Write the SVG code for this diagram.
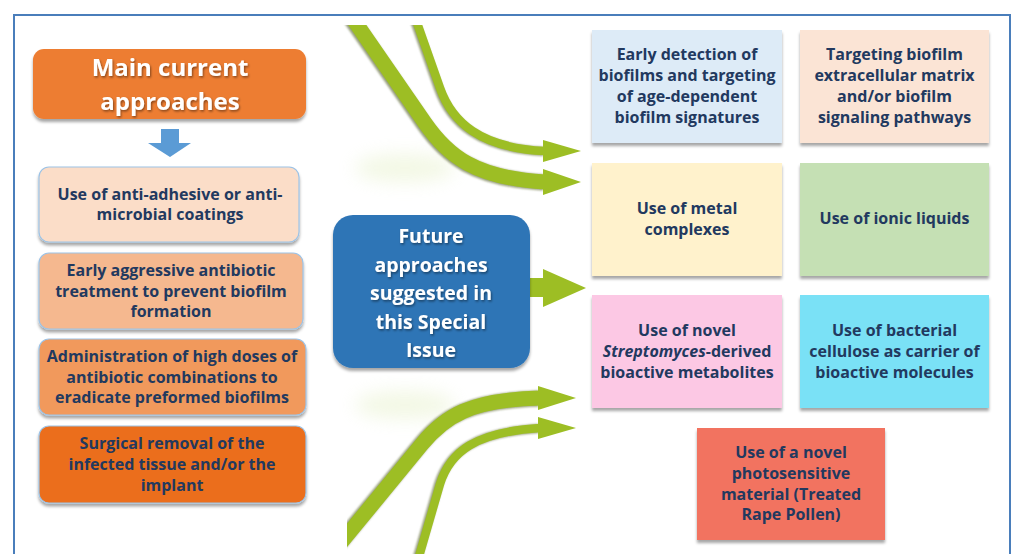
<svg xmlns="http://www.w3.org/2000/svg" width="1012" height="554" viewBox="0 0 1012 554">
<defs>
<style>
.t{font-family:"Open Sans","Liberation Sans",sans-serif;font-weight:bold;text-anchor:middle}
.dk{fill:#22395F;font-size:16px}
.wh{fill:#FFFFFF}
.band{fill:none;stroke:#9DBE24;stroke-linecap:butt}
.bandsh{fill:none;stroke:#3E4A08;stroke-linecap:butt;opacity:0.55}
.head{fill:#9DBE24}
.lb{stroke:#9DC3E6;stroke-width:1.2}
</style>
<filter id="sh" x="-10%" y="-10%" width="120%" height="130%">
<feDropShadow dx="0" dy="3" stdDeviation="1.8" flood-color="#000" flood-opacity="0.35"/>
</filter>
<filter id="tsh" x="-10%" y="-20%" width="120%" height="150%">
<feDropShadow dx="1" dy="1.5" stdDeviation="1" flood-color="#000" flood-opacity="0.45"/>
</filter>
<filter id="blur1"><feGaussianBlur stdDeviation="1.2"/></filter>
<filter id="blur6" x="-50%" y="-100%" width="200%" height="300%"><feGaussianBlur stdDeviation="9"/></filter>
<clipPath id="ctop"><rect x="340" y="25" width="260" height="200"/></clipPath>
<clipPath id="cbot"><rect x="347" y="370" width="260" height="184"/></clipPath>
</defs>
<rect x="0" y="0" width="1012" height="554" fill="#FFFFFF"/>
<path d="M14,554 L14,15 L1010,15 L1010,554" fill="none" stroke="#4A7EBB" stroke-width="2"/>

<g id="connectors">
<polygon id="down-arrow" points="161,129 179,129 179,143 191,143 170,157 148,143 161,143" fill="#5B9BD5"/>
<g id="top-arrows">
<ellipse cx="405" cy="168" rx="50" ry="14" fill="#DDEBB5" opacity="0.35" filter="url(#blur6)"/>
<g clip-path="url(#ctop)">
<path class="bandsh" d="M340,0 L425,123 C448,156 475,178 545,182" stroke-width="16" transform="translate(-1.5,0.5)" filter="url(#blur1)"/>
<path class="band" d="M340,0 L425,123 C448,156 475,178 545,182" stroke-width="15"/>
<path class="bandsh" d="M409,0 L440,88 C452,122 480,148 545,151" stroke-width="9" transform="translate(-1.5,0.5)" filter="url(#blur1)"/>
<path class="band" d="M409,0 L440,88 C452,122 480,148 545,151" stroke-width="8.5"/>
</g>
<polygon class="head" points="543,140 581,151 543,162"/>
<polygon class="head" points="543,169 581,182 543,195"/>
</g>
<g id="mid-arrow">
<rect x="529" y="278" width="15" height="19" fill="#9DBE24"/>
<polygon class="head" points="543,269 586,288 543,307"/>
</g>
<g id="bottom-arrows">
<ellipse cx="405" cy="405" rx="50" ry="14" fill="#DDEBB5" opacity="0.35" filter="url(#blur6)"/>
<g clip-path="url(#cbot)">
<path class="bandsh" d="M330,556 L422,444 C445,416 470,400 540,398" stroke-width="16" transform="translate(-1.5,0.5)" filter="url(#blur1)"/>
<path class="band" d="M330,556 L422,444 C445,416 470,400 540,398" stroke-width="15"/>
<path class="bandsh" d="M418,560 L440,484 C450,452 475,432 540,428" stroke-width="9" transform="translate(-1.5,0.5)" filter="url(#blur1)"/>
<path class="band" d="M418,560 L440,484 C450,452 475,432 540,428" stroke-width="8.5"/>
</g>
<polygon class="head" points="538,386 576,398 538,410"/>
<polygon class="head" points="538,417 576,428 538,439"/>
</g>
</g>

<g id="main-current">
<rect x="33" y="49" width="273" height="70" rx="11" fill="#ED7D31" filter="url(#sh)"/>
<g filter="url(#tsh)">
<text class="t wh" x="170" y="76" font-size="24">Main current</text>
<text class="t wh" x="170" y="110" font-size="24">approaches</text>
</g>
</g>

<g id="cur1">
<rect x="39" y="167" width="260" height="75" rx="10" fill="#FBDDC8" class="lb" filter="url(#sh)"/>
<text class="t dk" x="170" y="200">Use of anti-adhesive or anti-</text>
<text class="t dk" x="170" y="220">microbial coatings</text>
</g>
<g id="cur2">
<rect x="39" y="253" width="264" height="76" rx="10" fill="#F5B88F" class="lb" filter="url(#sh)"/>
<text class="t dk" x="171" y="276">Early aggressive antibiotic</text>
<text class="t dk" x="171" y="296.5">treatment to prevent biofilm</text>
<text class="t dk" x="171" y="317">formation</text>
</g>
<g id="cur3">
<rect x="39" y="339" width="267" height="76" rx="10" fill="#F1995C" class="lb" filter="url(#sh)"/>
<text class="t dk" x="172" y="362">Administration of high doses of</text>
<text class="t dk" x="172" y="382.5">antibiotic combinations to</text>
<text class="t dk" x="172" y="403">eradicate preformed biofilms</text>
</g>
<g id="cur4">
<rect x="39" y="426" width="267" height="77" rx="10" fill="#EB6E1A" class="lb" filter="url(#sh)"/>
<text class="t dk" x="172" y="449">Surgical removal of the</text>
<text class="t dk" x="172" y="470">infected tissue and/or the</text>
<text class="t dk" x="172" y="491">implant</text>
</g>

<g id="future">
<rect x="333" y="215" width="197" height="153" rx="20" fill="#2E75B6" filter="url(#sh)"/>
<g filter="url(#tsh)">
<text class="t wh" x="431" y="243" font-size="19.5">Future</text>
<text class="t wh" x="431" y="271.5" font-size="19.5">approaches</text>
<text class="t wh" x="431" y="300" font-size="19.5">suggested in</text>
<text class="t wh" x="431" y="328.5" font-size="19.5">this Special</text>
<text class="t wh" x="431" y="357" font-size="19.5">Issue</text>
</g>
</g>

<g id="fut1">
<rect x="592" y="30" width="190" height="113" fill="#DDEBF7" filter="url(#sh)"/>
<text class="t dk" x="687" y="60">Early detection of</text>
<text class="t dk" x="687" y="81">biofilms and targeting</text>
<text class="t dk" x="687" y="102">of age-dependent</text>
<text class="t dk" x="687" y="123">biofilm signatures</text>
</g>
<g id="fut2">
<rect x="800" y="30" width="189" height="113" fill="#FBE4D5" filter="url(#sh)"/>
<text class="t dk" x="894.5" y="60">Targeting biofilm</text>
<text class="t dk" x="894.5" y="81">extracellular matrix</text>
<text class="t dk" x="894.5" y="102">and/or biofilm</text>
<text class="t dk" x="894.5" y="123">signaling pathways</text>
</g>
<g id="fut3">
<rect x="592" y="163" width="190" height="113" fill="#FFF2CC" filter="url(#sh)"/>
<text class="t dk" x="687" y="213.5">Use of metal</text>
<text class="t dk" x="687" y="234.5">complexes</text>
</g>
<g id="fut4">
<rect x="800" y="163" width="189" height="113" fill="#C5E0B4" filter="url(#sh)"/>
<text class="t dk" x="894.5" y="224">Use of ionic liquids</text>
</g>
<g id="fut5">
<rect x="592" y="295" width="190" height="113" fill="#FCC8E4" filter="url(#sh)"/>
<text class="t dk" x="687" y="335.5">Use of novel</text>
<text class="t dk" x="687" y="356.5"><tspan font-style="italic">Streptomyces</tspan>-derived</text>
<text class="t dk" x="687" y="377.5">bioactive metabolites</text>
</g>
<g id="fut6">
<rect x="800" y="295" width="189" height="113" fill="#7AE1F6" filter="url(#sh)"/>
<text class="t dk" x="894.5" y="335.5">Use of bacterial</text>
<text class="t dk" x="894.5" y="356.5">cellulose as carrier of</text>
<text class="t dk" x="894.5" y="377.5">bioactive molecules</text>
</g>
<g id="fut7">
<rect x="697" y="428" width="188" height="112" fill="#F27360" filter="url(#sh)"/>
<text class="t dk" x="791" y="457.5">Use of a novel</text>
<text class="t dk" x="791" y="478.5">photosensitive</text>
<text class="t dk" x="791" y="499.5">material (Treated</text>
<text class="t dk" x="791" y="520">Rape Pollen)</text>
</g>
</svg>
